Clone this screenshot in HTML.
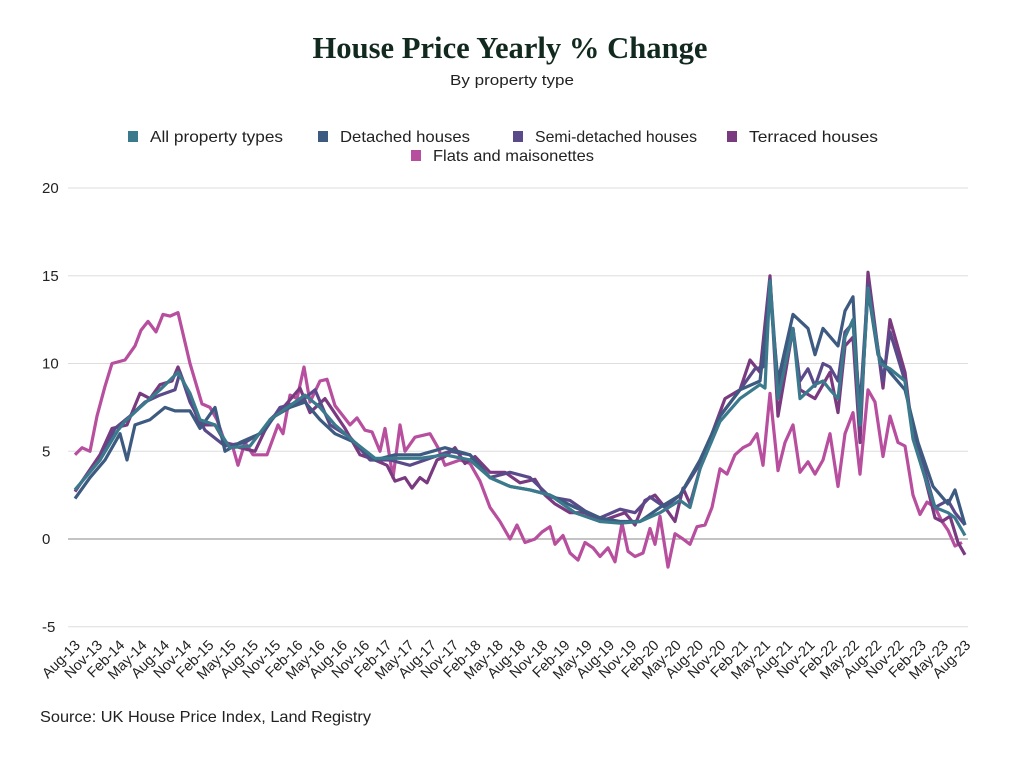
<!DOCTYPE html>
<html><head><meta charset="utf-8"><style>
body{margin:0;background:#fff;}
svg{display:block;font-family:"Liberation Sans",sans-serif;}
</style></head><body>
<svg id="s" width="1024" height="768" viewBox="0 0 1024 768" xmlns="http://www.w3.org/2000/svg">
<rect width="1024" height="768" fill="#fff"/>
<text x="510" y="58" text-anchor="middle" font-family="Liberation Serif,serif" font-weight="bold" font-size="31" fill="#12291f" textLength="395" lengthAdjust="spacingAndGlyphs">House Price Yearly % Change</text>
<text x="512" y="85" text-anchor="middle" font-size="15" fill="#222" textLength="124" lengthAdjust="spacingAndGlyphs">By property type</text>
<g font-size="16" fill="#222" lengthAdjust="spacingAndGlyphs">
<rect x="128" y="131" width="10" height="11" fill="#3a7a8c"/><text x="150" y="142" textLength="133" lengthAdjust="spacingAndGlyphs">All property types</text>
<rect x="318" y="131" width="10" height="11" fill="#3d5a80"/><text x="340" y="142" textLength="130" lengthAdjust="spacingAndGlyphs">Detached houses</text>
<rect x="513" y="131" width="10" height="11" fill="#5a4a8a"/><text x="535" y="142" textLength="162" lengthAdjust="spacingAndGlyphs">Semi-detached houses</text>
<rect x="727" y="131" width="10" height="11" fill="#7a3a80"/><text x="749" y="142" textLength="129" lengthAdjust="spacingAndGlyphs">Terraced houses</text>
<rect x="411" y="150" width="10" height="11" fill="#b84e9e"/><text x="433" y="161" textLength="161" lengthAdjust="spacingAndGlyphs">Flats and maisonettes</text>
</g>
<g id="grid"></g>
<g id="lines" fill="none" stroke-width="3.2" stroke-linejoin="round"></g>
<text x="40" y="722" font-size="16" fill="#222" textLength="331" lengthAdjust="spacingAndGlyphs">Source: UK House Price Index, Land Registry</text>
</svg>
<script>
var NS="http://www.w3.org/2000/svg";
function el(t,a,p,txt){var e=document.createElementNS(NS,t);for(var k in a)e.setAttribute(k,a[k]);if(txt!=null)e.textContent=txt;p.appendChild(e);return e;}
var g=document.getElementById('grid');
function Y(v){return 539-v*17.55;}
[20,15,10,5,0,-5].forEach(function(v){
 el('line',{x1:68,x2:968,y1:Y(v),y2:Y(v),stroke:v==0?'#888':'#ddd','stroke-width':1},g);
 el('text',{x:42,y:Y(v)+5,'font-size':15,fill:'#222'},g,v==-5?'-5':String(v));
});
var mons=['Aug','Nov','Feb','May'];
for(var i=0;i<41;i++){
 var m=mons[i%4];var yr=13+Math.floor((i+2)/4);
 var x=75+i*3*7.42;
 el('text',{x:x+6,y:646,'font-size':14.5,fill:'#222','text-anchor':'end',transform:'rotate(-45 '+(x+6)+' 646)'},g,m+'-'+yr);
}
var S={
flats:["#b84e9e",[75,4.8,82,5.2,90,5,97,7,105,8.7,112,10,125,10.2,135,11,141,11.9,148,12.4,156,11.8,163,12.8,170,12.7,178,12.9,190,10,202,7.7,210,7.5,217,6.8,225,5.5,232,5.4,238,4.2,245,5.5,253,4.8,267,4.8,278,6.5,283,6,290,8.2,297,8,304,9.8,310,7.8,320,9,327,9.1,335,7.6,350,6.5,357,6.9,365,6.2,372,6.1,380,5,385,6.3,393,3.5,400,6.5,405,5,415,5.8,430,6,438,5.2,445,4.2,460,4.5,470,4.3,480,3.3,490,1.8,500,1,510,0,517,0.8,525,-0.2,535,0,542,0.4,550,0.7,555,-0.3,563,0.2,570,-0.8,578,-1.2,585,-0.2,593,-0.5,600,-1,608,-0.5,615,-1.3,622,0.9,628,-0.7,635,-1.0,643,-0.8,650,0.6,655,-0.3,660,1.3,668,-1.6,675,0.3,683,0,690,-0.3,697,0.7,705,0.8,712,1.8,720,4,727,3.7,735,4.8,743,5.2,750,5.4,757,6,763,4.2,770,8.3,778,3.9,785,5.5,793,6.5,800,3.8,808,4.4,815,3.7,823,4.5,830,6,838,3,845,6,853,7.2,860,3.7,868,8.5,875,7.8,883,4.7,890,7,898,5.5,905,5.3,913,2.5,920,1.4,927,2.1,935,1.8,942,1.0,948,0.5,955,-0.4,962,-0.2]],
terr:["#7a3a80",[75,2.7,100,4.8,112,6.3,127,6.5,140,8.3,150,8,160,8.8,172,9,178,9.8,190,8,200,6.5,215,6.5,225,5.5,240,5.2,255,5,270,6.8,285,7.6,300,8.6,310,7.2,325,8,345,6.3,360,4.8,375,4.5,387,4.2,395,3.3,405,3.5,412,2.9,420,3.5,427,3.2,437,4.5,445,4.7,455,5.2,465,4.3,475,4.7,490,3.8,505,3.8,520,3.2,535,3.4,545,2.5,555,2,570,1.5,585,1.5,600,1,615,1.3,625,1.5,635,0.8,645,2.2,655,2.5,665,1.8,675,1,683,2.9,690,2,700,4,712,6,725,8,740,8.5,750,10.2,760,9.5,770,15,778,7,793,12,800,8.5,815,8,830,9.5,838,7.2,845,11,853,11.5,860,5.5,868,15.2,883,8.6,890,12.5,905,9.5,913,5.8,925,3.5,935,1.2,942,1,950,1.3,958,-0.2,965,-0.9]],
semi:["#5a4a8a",[75,2.8,100,4.5,115,6.3,130,7,145,7.8,160,8.2,175,8.5,180,9.5,190,7.8,205,6.2,225,5.3,245,5.5,265,6.2,280,7.5,300,7.8,315,8.5,330,6.5,350,5.8,370,4.5,390,4.5,410,4.2,430,4.6,450,5,470,4.8,490,3.5,510,3.8,530,3.5,550,2.4,570,2.2,585,1.6,600,1.2,620,1.7,635,1.5,650,2.4,665,1.8,680,2.5,700,4.3,720,7,740,8.5,755,9.7,763,9.8,770,14.8,778,8.5,793,12,800,9,808,9.7,815,8.7,823,10,830,9.8,838,9,845,11.8,853,12.3,860,7.5,868,14.5,883,9,890,11.8,905,9,913,6,925,3.8,935,1.8,948,2.2,955,1.5,965,0.8]],
det:["#3d5a80",[75,2.3,90,3.5,105,4.5,120,6,127,4.5,135,6.5,150,6.8,165,7.5,175,7.3,190,7.3,200,6.3,215,7.5,225,5,240,5.5,260,6,275,7,290,7.5,305,7.8,320,6.8,335,6,355,5.5,375,4.5,395,4.8,420,4.8,445,5.2,470,4.8,490,3.5,510,3,530,2.8,550,2.5,575,1.8,600,1.2,620,1.0,640,1,660,1.8,680,2.5,700,4.5,720,7,740,8.5,760,9,770,14,778,9,793,12.8,808,12,815,10.5,823,12,838,11,845,13,853,13.8,860,6.5,868,14.2,878,10.5,890,9.5,905,8.5,918,5.5,933,3,948,2,955,2.8,965,0.8]],
all:["#3a7a8c",[75,2.8,100,4.5,118,6.2,125,6.7,140,7.5,160,8.5,178,9.5,190,8.3,200,6.8,215,6.5,230,5.2,250,5.3,270,6.8,290,7.6,305,8.2,320,7.5,335,6.5,355,5.5,375,4.6,395,4.6,420,4.6,445,4.8,470,4.5,490,3.5,510,3,530,2.8,550,2.5,575,1.5,600,1,620,0.9,640,1,660,1.5,680,2.2,690,1.8,700,4,720,6.7,740,8,760,8.8,765,8.6,770,14.7,778,8,793,12,800,8,815,8.8,823,9,830,8.5,838,8,845,11.5,853,12.5,860,6.5,868,14.3,880,10,890,9.7,905,9,913,5.7,925,3.5,935,1.8,948,1.5,955,1.2,965,0.2]]
};
var L=document.getElementById('lines');
['flats','terr','semi','det','all'].forEach(function(k){
 var c=S[k][0],a=S[k][1],pts=[];
 for(var i=0;i<a.length;i+=2)pts.push(a[i]+','+Y(a[i+1]).toFixed(1));
 el('polyline',{points:pts.join(' '),stroke:c},L);
});
</script>
</body></html>
